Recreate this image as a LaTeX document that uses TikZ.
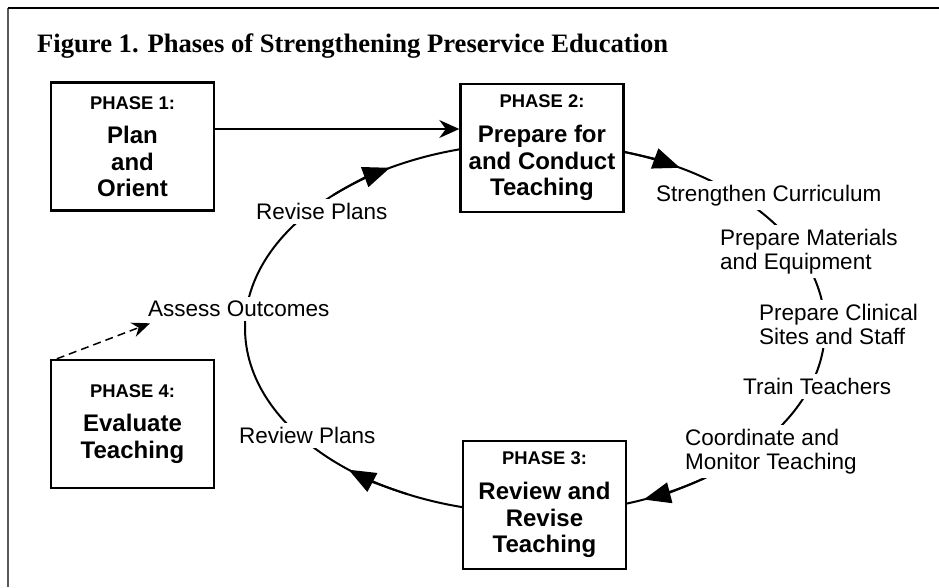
\documentclass[tikz,border=0pt]{standalone}
\usepackage{fontspec}
\setmainfont{Liberation Sans}
\newfontfamily\titlefont{Liberation Serif}
\usetikzlibrary{arrows.meta}

\tikzset{
  phase/.style={draw, line width=2.4pt, fill=white, minimum width=163pt, minimum height=128pt,
    inner sep=0pt, align=center, font=\fontsize{24}{26.5}\selectfont\bfseries},
  steplabel/.style={fill=white, inner sep=4pt, anchor=north west, align=left,
    font=\fontsize{22.5}{23.5}\selectfont},
  loopline/.style={line width=2pt},
  looptip/.style={line width=2pt, -{Triangle[length=27pt,width=21pt]}},
}
\newcommand{\phasehead}[1]{{\fontsize{18.4}{20}\selectfont #1}}

\begin{document}
\begin{tikzpicture}[x=1pt,y=-1pt]
  \useasboundingbox (0,0) rectangle (939,587);
  \draw [line width=1.5pt,gray!70!black] (8,587) -- (8,8);
  \draw [line width=1.5pt] (8,8) -- (939,8);
  \node [anchor=base west, inner sep=0pt, font=\titlefont\fontsize{26.6}{30}\selectfont\bfseries] (title) at (37,52)
    {Figure 1. Phases of Strengthening Preservice Education};

  % the cycle
  \draw [loopline] (535,328) ellipse [x radius=290, y radius=185];
  \foreach \s/\e in {54/68, 116/130, 226/240, 286/300}
    \draw [looptip] (535,328) ++(\s:290 and 185) arc [start angle=\s, end angle=\e, x radius=290, y radius=185];

  \node [steplabel] (curric) at (652,181) {Strengthen Curriculum};
  \node [steplabel] (materials) at (716,225) {Prepare Materials\\and Equipment};
  \node [steplabel] (clinical) at (755,300) {Prepare Clinical\\Sites and Staff};
  \node [steplabel] (train) at (739,374) {Train Teachers};
  \node [steplabel] (monitor) at (681,425) {Coordinate and\\Monitor Teaching};
  \node [steplabel] (review) at (235,423) {Review Plans};
  \node [steplabel] (assess) at (144,297) {Assess Outcomes};
  \node [steplabel] (revise) at (252,199) {Revise Plans};

  % phases
  \node [phase] (p1) at (132.5,146.5) {\phasehead{PHASE 1:}\\[8pt]Plan\\and\\Orient};
  \node [phase] (p2) at (542,148) {\phasehead{PHASE 2:}\\[8.5pt]Prepare for\\and Conduct\\Teaching};
  \node [phase] (p3) at (544.5,505) {\phasehead{PHASE 3:}\\[8.5pt]Review and\\Revise\\Teaching};
  \node [phase] (p4) at (132.5,424) {\phasehead{PHASE 4:}\\[8pt]Evaluate\\Teaching};

  \draw [line width=1.5pt,-{Stealth[length=20pt,width=18pt]}] ([yshift=17.5pt]p1.east) -- ([yshift=17.5pt]p1.east -| p2.west);
  \draw [line width=1.5pt,dash pattern=on 8pt off 5pt,-{Stealth[length=18pt,width=15pt]}] ([xshift=7pt]p4.north west) -- ([xshift=6pt,yshift=-2pt]assess.south west);
\end{tikzpicture}
\end{document}
